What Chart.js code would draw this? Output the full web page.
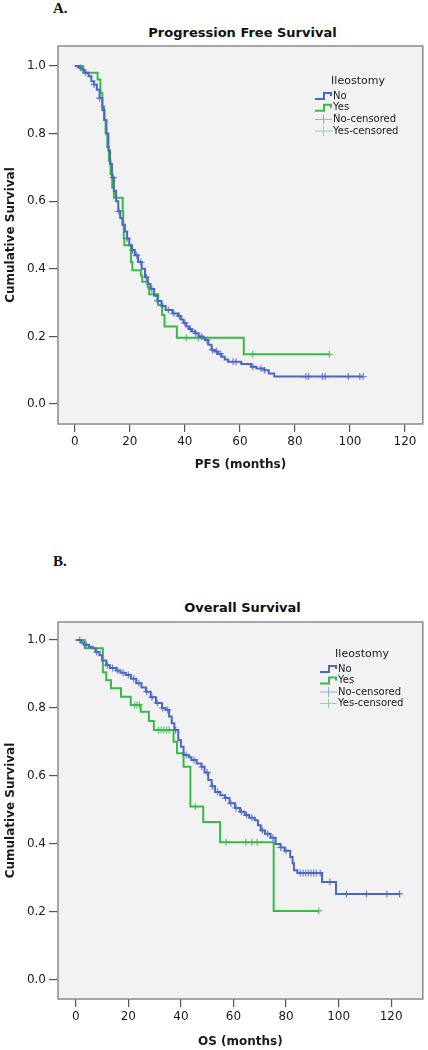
<!DOCTYPE html>
<html>
<head>
<meta charset="utf-8">
<script src="https://cdn.jsdelivr.net/npm/chart.js@4"></script>
<style>
	body { margin: 0; background: #fff; width: 428px; height: 1050px; overflow: hidden; position: relative; font-family: "DejaVu Sans", sans-serif; }
	.tag { position: absolute; left: 53px; font: bold 15px "Liberation Serif", serif; color: #111; line-height: 15px; }
	.title { position: absolute; left: 58px; width: 369px; text-align: center; font: bold 13px "DejaVu Sans", sans-serif; color: #111; line-height: 15px; }
	canvas { position: absolute; left: 0; }
</style>
</head>
<body>
<div class="tag" style="top: 1px">A.</div>
<div class="title" style="top: 25px">Progression Free Survival</div>
<canvas id="pfsChart" width="428" height="476" style="top: 0"></canvas>

<div class="tag" style="top: 554px">B.</div>
<div class="title" style="top: 600px">Overall Survival</div>
<canvas id="osChart" width="428" height="474" style="top: 576px"></canvas>

<script>
'use strict'

// PFS, Ileostomy = No
const pfsNoTime = [0, 1.5, 2.5, 3.5, 5, 6, 7, 8, 9, 10, 10.8, 11.5, 12.2, 12.8, 13.5, 14.2, 15, 15.8, 16.5, 17.3, 18.2, 19, 19.8, 20.8, 21.8, 23, 24.3, 25.5, 26.5, 27.5, 28.8, 30, 31.5, 33, 35.5, 37.5, 38.5, 39.5, 40.5, 41.5, 42.5, 43.7, 45, 46.5, 47.3, 48.5, 49.7, 51, 52, 53.3, 54.5, 55.7, 60.5, 64.1, 66, 68.9, 70.5, 72.5, 104.8];
const pfsNoSurv = [1, .995, .99, .98, .97, .955, .945, .93, .905, .87, .84, .80, .75, .71, .67, .63, .60, .57, .55, .53, .51, .49, .47, .455, .44, .42, .40, .375, .355, .34, .32, .305, .29, .278, .268, .26, .25, .24, .229, .222, .215, .209, .20, .195, .189, .175, .16, .155, .148, .14, .132, .125, .118, .11, .105, .10, .09, .081, .081];
const pfsNoCensored = [2, 4, 7, 9, 14, 16, 19, 21, 22.5, 24, 26, 28, 30, 32, 34, 36, 38, 40, 42, 44, 46, 48, 50, 51.5, 53, 57.5, 58.6, 64.7, 67.7, 68.9, 84, 85, 90, 91, 99.4, 103.6, 104.8];

// PFS, Ileostomy = Yes
const pfsYesTime = [0, 3, 8.3, 9.3, 10, 10.6, 11.2, 11.8, 12.4, 13, 13.6, 14.2, 17.4, 17.6, 17.8, 18, 20.4, 20.9, 24, 24.5, 26.5, 27, 30.3, 31.7, 32.6, 37.1, 61.4, 92.5];
const pfsYesSurv = [1, .98, .96, .92, .88, .84, .80, .76, .72, .68, .64, .61, .57, .53, .49, .47, .42, .396, .38, .362, .345, .325, .293, .263, .229, .196, .147, .147];
const pfsYesCensored = [40.5, 44.9, 64.7, 92.5];

// OS, Ileostomy = No
const osNoTime = [0, 2, 3, 5, 6.4, 7.5, 9, 10, 11.6, 13, 15.4, 17, 19, 21, 23, 25, 26.7, 28.5, 30.5, 32.8, 34.2, 35.5, 36.5, 37.5, 39, 40, 41, 43, 44, 46, 47.8, 49, 50.4, 51.7, 53, 55, 56.8, 58.5, 60.6, 62.5, 64.3, 66, 68.1, 69.3, 70.4, 72, 74.1, 76, 77.9, 79.5, 81.6, 82.5, 83, 84.3, 93.7, 99, 123.5];
const osNoSurv = [1, .993, .986, .98, .976, .965, .955, .94, .926, .918, .91, .904, .897, .886, .873, .86, .848, .832, .815, .80, .794, .775, .755, .735, .705, .686, .662, .655, .647, .637, .627, .61, .588, .57, .553, .543, .535, .52, .506, .495, .485, .477, .47, .455, .44, .43, .418, .40, .39, .38, .362, .343, .323, .315, .288, .253, .253];
const osNoCensored = [1.5, 4, 8, 12, 14, 16, 18, 20, 22, 24, 27, 29, 31, 33, 35, 38, 42, 45, 48, 50, 52, 54, 57, 59, 61, 63, 65, 67, 71, 73, 75, 78, 80, 85.4, 86.5, 87.5, 88.5, 89.5, 90.5, 91.5, 93, 96.7, 103, 110.6, 118.4, 123.2];

// OS, Ileostomy = Yes
const osYesTime = [0, 3.4, 10.3, 11.6, 13.4, 17.2, 20.9, 24.7, 27.8, 29.7, 37.2, 38.5, 41, 43.6, 48.5, 54.9, 75.3, 92.5];
const osYesSurv = [1, .976, .905, .882, .858, .833, .809, .789, .762, .735, .701, .667, .627, .51, .465, .405, .203, .203];
const osYesCensored = [22.4, 23.3, 24.2, 31.5, 32.5, 33.5, 34.5, 35.5, 45.5, 57.2, 64.7, 67, 69, 92.5];

const xTicks = [0, 20, 40, 60, 80, 100, 120];
const yTicks = [0, 0.2, 0.4, 0.6, 0.8, 1.0];
const groupLabels = ['No', 'Yes', 'No-censored', 'Yes-censored'];

const colors = {
	no: '#4b67c4',
	yes: '#37b94b',
	noCens: '#6d83d2',
	yesCens: '#5ec86d',
	noLegendCens: '#97a6df',
	yesLegendCens: '#8ed897',
	text: '#1a1a1a',
	tick: '#555',
	frame: '#8a8a8a',
	plot: '#f2f2f2',
};

function steps(times, surv) {
	return times.map((t, i) => ({ x: t, y: surv[i] }));
}

// censor marks sit on the curve: look up the survival level at that time
function censorPoints(cens, times, surv) {
	return cens.map((t) => {
		let s = surv[0];
		for (let i = 0; i < times.length; i++) {
			if (times[i] <= t) s = surv[i];
		}
		return { x: t, y: s };
	});
}

const plotFrame = {
	id: 'plotFrame',
	beforeDraw(chart) {
		const a = chart.chartArea;
		const ctx = chart.ctx;
		ctx.save();
		ctx.fillStyle = colors.plot;
		ctx.fillRect(a.left, a.top, a.right - a.left, a.bottom - a.top);
		ctx.restore();
	},
	afterDraw(chart) {
		const a = chart.chartArea;
		const ctx = chart.ctx;
		ctx.save();
		ctx.strokeStyle = colors.frame;
		ctx.lineWidth = 1.5;
		ctx.strokeRect(a.left, a.top, a.right - a.left, a.bottom - a.top);
		ctx.restore();
	},
};

const kmLegend = {
	id: 'kmLegend',
	afterDraw(chart, args, opts) {
		const ctx = chart.ctx;
		ctx.save();
		ctx.fillStyle = colors.text;
		ctx.textBaseline = 'middle';
		ctx.textAlign = 'center';
		ctx.font = '11px "DejaVu Sans"';
		ctx.fillText(opts.title, opts.titleX, opts.titleY);
		ctx.textAlign = 'left';
		ctx.font = '10px "DejaVu Sans"';
		chart.data.datasets.forEach((ds, i) => {
			let x = opts.x;
			let y = opts.y + i * opts.rowGap;
			ctx.strokeStyle = ds.legendColor;
			ctx.beginPath();
			if (ds.showLine) {
				ctx.lineWidth = 2;
				ctx.moveTo(x, y + 3);
				ctx.lineTo(x + 9, y + 3);
				ctx.lineTo(x + 9, y - 3);
				ctx.lineTo(x + 16, y - 3);
				ctx.lineTo(x + 16, y);
			} else {
				ctx.lineWidth = 1;
				ctx.moveTo(x, y);
				ctx.lineTo(x + 17, y);
				ctx.moveTo(x + 8.5, y - 5);
				ctx.lineTo(x + 8.5, y + 5);
			}
			ctx.stroke();
			ctx.fillStyle = colors.text;
			ctx.fillText(ds.label, x + 18, y);
		});
		ctx.restore();
	},
};

function kmChart(canvasId, curves, cfg) {
	let datasets = [
		{
			label: groupLabels[0],
			data: steps(curves.noTime, curves.noSurv),
			borderColor: colors.no,
			legendColor: colors.no,
			borderWidth: 2,
			stepped: 'before',
			showLine: true,
			pointRadius: 0,
		},
		{
			label: groupLabels[1],
			data: steps(curves.yesTime, curves.yesSurv),
			borderColor: colors.yes,
			legendColor: colors.yes,
			borderWidth: 2,
			stepped: 'before',
			showLine: true,
			pointRadius: 0,
		},
		{
			label: groupLabels[2],
			data: censorPoints(curves.noCens, curves.noTime, curves.noSurv),
			borderColor: colors.noCens,
			legendColor: colors.noLegendCens,
			showLine: false,
			pointStyle: 'cross',
			pointRadius: 3.5,
			pointBorderWidth: 1.2,
		},
		{
			label: groupLabels[3],
			data: censorPoints(curves.yesCens, curves.yesTime, curves.yesSurv),
			borderColor: colors.yesCens,
			legendColor: colors.yesLegendCens,
			showLine: false,
			pointStyle: 'cross',
			pointRadius: 3.5,
			pointBorderWidth: 1.2,
		},
	];

	return new Chart(document.getElementById(canvasId), {
		type: 'scatter',
		data: { datasets: datasets },
		plugins: [plotFrame, kmLegend],
		options: {
			responsive: false,
			animation: false,
			layout: { padding: { top: 46, right: 1, left: 0, bottom: 0 } },
			plugins: {
				legend: { display: false },
				tooltip: { enabled: false },
				kmLegend: cfg.legend,
			},
			scales: {
				x: {
					type: 'linear',
					min: cfg.xMin,
					max: cfg.xMax,
					afterBuildTicks: (axis) => { axis.ticks = xTicks.map((v) => ({ value: v })); },
					afterFit: (axis) => { axis.height = cfg.xAxisHeight; },
					grid: { drawOnChartArea: false, tickLength: 8, color: colors.tick, lineWidth: 1.2 },
					border: { display: false },
					ticks: { padding: 3, color: colors.text, font: { family: 'DejaVu Sans', size: 12 }, maxRotation: 0 },
					title: { display: true, text: cfg.xTitle, color: colors.text, font: { family: 'DejaVu Sans', size: 12, weight: 'bold' }, padding: { top: 4, bottom: cfg.xTitlePad } },
				},
				y: {
					type: 'linear',
					min: cfg.yMin,
					max: cfg.yMax,
					afterBuildTicks: (axis) => { axis.ticks = yTicks.map((v) => ({ value: v })); },
					afterFit: (axis) => { axis.width = 58; },
					grid: { drawOnChartArea: false, tickLength: 9, color: colors.tick, lineWidth: 1.2 },
					border: { display: false },
					ticks: { padding: 3, color: colors.text, font: { family: 'DejaVu Sans', size: 12 }, callback: (v) => v.toFixed(1) },
					title: { display: true, text: 'Cumulative Survival', color: colors.text, font: { family: 'DejaVu Sans', size: 12, weight: 'bold' }, padding: { top: 4, bottom: 4 } },
				},
			},
		},
	});
}

let pfsChart = kmChart('pfsChart', {
	noTime: pfsNoTime, noSurv: pfsNoSurv, noCens: pfsNoCensored,
	yesTime: pfsYesTime, yesSurv: pfsYesSurv, yesCens: pfsYesCensored,
}, {
	xMin: -6.11, xMax: 126.47, yMin: -0.0592, yMax: 1.0592,
	xAxisHeight: 52, xTitle: 'PFS (months)', xTitlePad: 4,
	legend: { title: 'Ileostomy', titleX: 358, titleY: 81, x: 315, y: 96, rowGap: 11.7 },
});

let osChart = kmChart('osChart', {
	noTime: osNoTime, noSurv: osNoSurv, noCens: osNoCensored,
	yesTime: osYesTime, yesSurv: osYesSurv, yesCens: osYesCensored,
}, {
	xMin: -6.77, xMax: 132.04, yMin: -0.056, yMax: 1.053,
	xAxisHeight: 51, xTitle: 'OS (months)', xTitlePad: 1,
	legend: { title: 'Ileostomy', titleX: 362, titleY: 78, x: 320, y: 93, rowGap: 11.5 },
});
</script>
</body>
</html>
